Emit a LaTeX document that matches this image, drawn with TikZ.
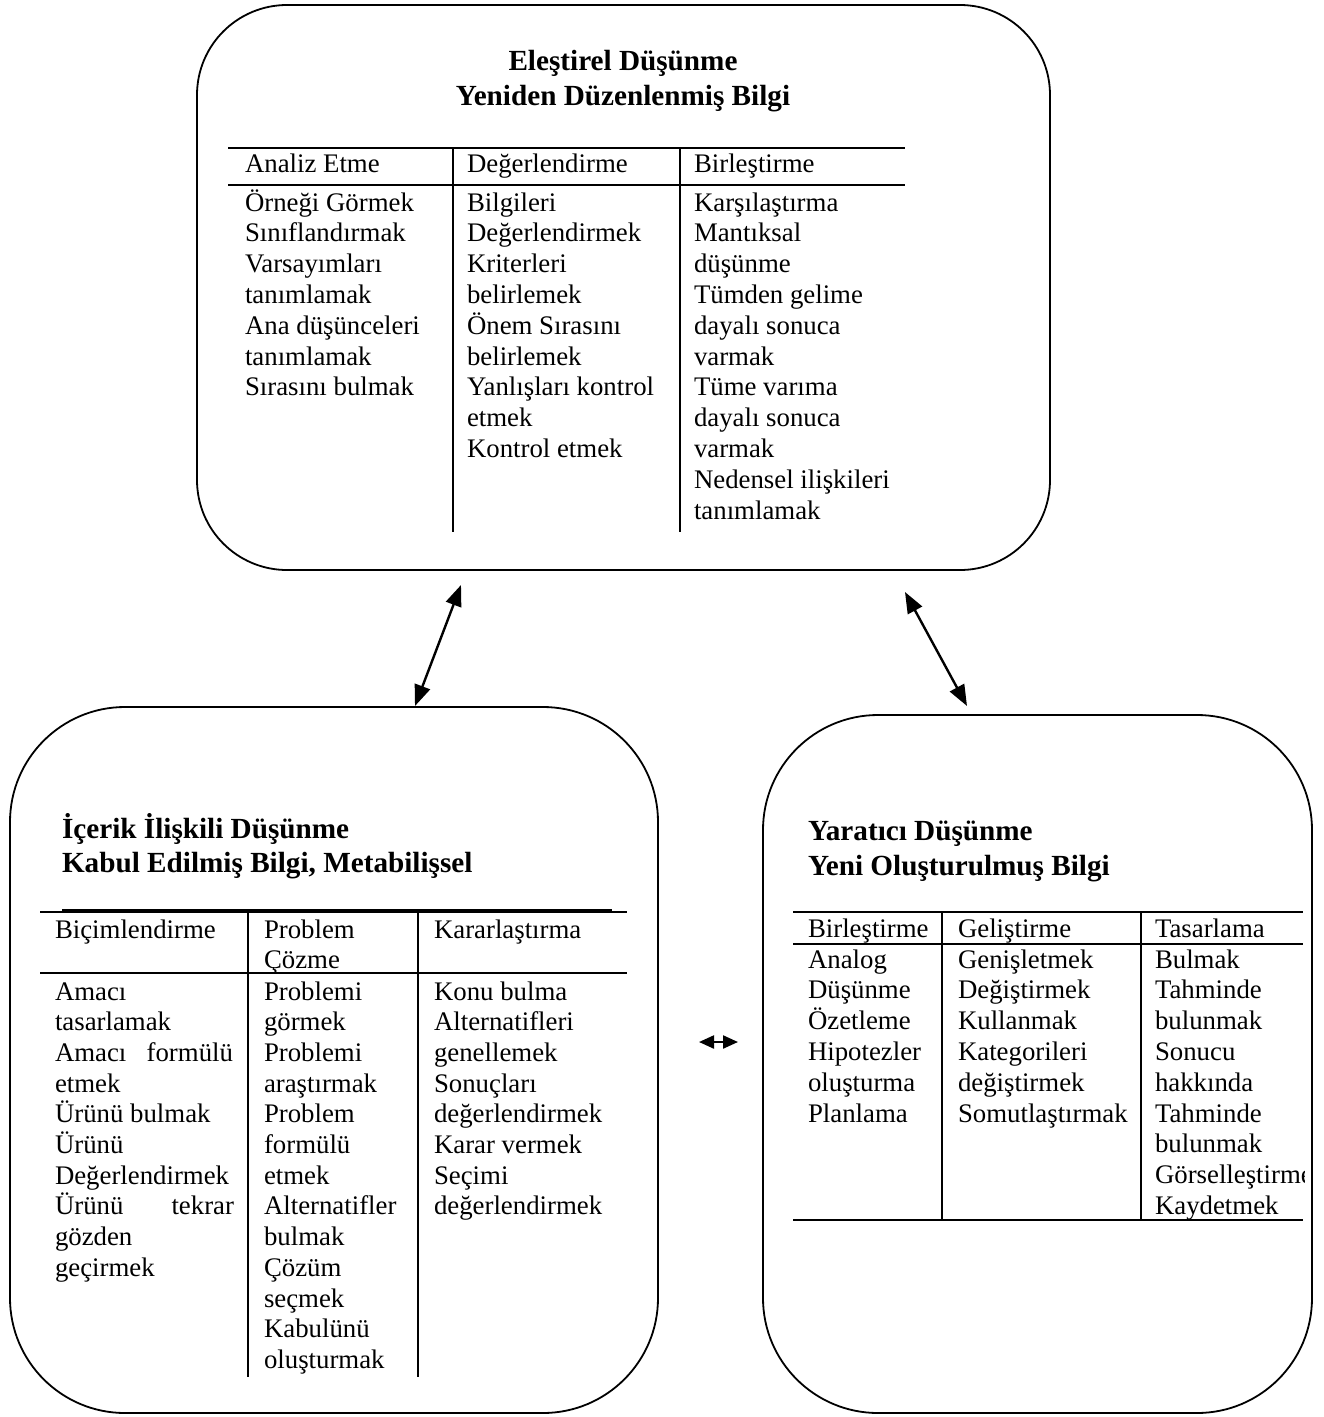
\documentclass[tikz,border=0pt]{standalone}
\usepackage{fontspec}
\setmainfont{Liberation Serif}
\usetikzlibrary{arrows.meta}
\tikzset{
  box/.style={draw, line width=1.8pt, inner sep=0pt, outer sep=0pt},
  cell/.style={anchor=base west, inner sep=0pt, outer sep=0pt, font=\fontsize{26.8}{30.8}\selectfont},
  cellr/.style={anchor=base east, inner sep=0pt, outer sep=0pt, font=\fontsize{26.8}{30.8}\selectfont},
  ttl/.style={inner sep=0pt, outer sep=0pt, font=\fontsize{29.2}{35}\selectfont\bfseries},
  rule/.style={line width=2pt},
  dbl/.style={line width=2.4pt, {Triangle[length=21pt,width=16pt]}-{Triangle[length=21pt,width=16pt]}},
  sdbl/.style={line width=2.2pt, {Triangle[length=15pt,width=13pt]}-{Triangle[length=15pt,width=13pt]}}
}
\begin{document}
\begin{tikzpicture}[x=1pt,y=-1pt]
\useasboundingbox (0,0) rectangle (1324,1417);
\fill[white] (0,0) rectangle (1324,1417);

% ---------- boxes ----------
\node[box, rounded corners=90pt, minimum width=853pt, minimum height=565pt] (top) at (623.5,287.5) {};
\node[box, rounded corners=115pt, minimum width=648pt, minimum height=706pt] (left) at (334,1060) {};
\node[box, rounded corners=115pt, minimum width=549pt, minimum height=698pt] (right) at (1037.5,1064) {};

% ---------- connectors ----------
\coordinate (t1) at (461,585);
\coordinate (l1) at (415,706);
\coordinate (t2) at (905,592);
\coordinate (r1) at (967,706);
\draw[dbl] (l1) -- (t1);
\draw[dbl] (r1) -- (t2);
\coordinate (m1) at (699,1042);
\coordinate (m2) at (738,1042);
\draw[sdbl] (m1) -- (m2);

% ---------- top box ----------
\node[ttl, anchor=base] (tt1) at (623,70) {Eleştirel Düşünme};
\node[ttl, anchor=base] (tt2) at (623,105) {Yeniden Düzenlenmiş Bilgi};
\draw[rule] (228,148) -- (905,148);
\draw[rule] (228,185) -- (905,185);
\draw[rule] (453,148) -- (453,532);
\draw[rule] (680,148) -- (680,532);
\node[cell] (th1) at (245,172) {Analiz Etme};
\node[cell] (th2) at (467,172) {Değerlendirme};
\node[cell] (th3) at (694,172) {Birleştirme};
\foreach \t [count=\i from 0] in {Örneği Görmek,Sınıflandırmak,Varsayımları,tanımlamak,Ana düşünceleri,tanımlamak,Sırasını bulmak}
  \node[cell] (ta\i) at (245,211+30.8*\i) {\t};
\foreach \t [count=\i from 0] in {Bilgileri,Değerlendirmek,Kriterleri,belirlemek,Önem Sırasını,belirlemek,Yanlışları kontrol,etmek,Kontrol etmek}
  \node[cell] (tb\i) at (467,211+30.8*\i) {\t};
\foreach \t [count=\i from 0] in {Karşılaştırma,Mantıksal,düşünme,Tümden gelime,dayalı sonuca,varmak,Tüme varıma,dayalı sonuca,varmak,Nedensel ilişkileri,tanımlamak}
  \node[cell] (tc\i) at (694,211+30.8*\i) {\t};

% ---------- left box ----------
\node[ttl, anchor=base west] (lt1) at (62,838) {İçerik İlişkili Düşünme};
\node[ttl, anchor=base west] (lt2) at (62,872) {Kabul Edilmiş Bilgi, Metabilişsel};
\draw[rule] (40,912) -- (627,912);
\draw[line width=1.5pt] (62,910) -- (612,910);
\draw[rule] (40,973) -- (627,973);
\draw[rule] (248,912) -- (248,1377);
\draw[rule] (418,912) -- (418,1377);
\node[cell] (lh1) at (55,938) {Biçimlendirme};
\node[cell] (lh2) at (264,938) {Problem};
\node[cell] (lh2b) at (264,968) {Çözme};
\node[cell] (lh3) at (434,938) {Kararlaştırma};
\node[cell] (la0) at (55,1000) {Amacı};
\node[cell] (la1) at (55,1030.7) {tasarlamak};
\node[cell] (la2) at (55,1061.4) {Amacı};
\node[cellr] (la2b) at (233,1061.4) {formülü};
\node[cell] (la3) at (55,1092.1) {etmek};
\node[cell] (la4) at (55,1122.8) {Ürünü bulmak};
\node[cell] (la5) at (55,1153.5) {Ürünü};
\node[cell] (la6) at (55,1184.2) {Değerlendirmek};
\node[cell] (la7) at (55,1214.9) {Ürünü};
\node[cellr] (la7b) at (234,1214.9) {tekrar};
\node[cell] (la8) at (55,1245.6) {gözden};
\node[cell] (la9) at (55,1276.3) {geçirmek};
\foreach \t [count=\i from 0] in {Problemi,görmek,Problemi,araştırmak,Problem,formülü,etmek,Alternatifler,bulmak,Çözüm,seçmek,Kabulünü,oluşturmak}
  \node[cell] (lb\i) at (264,1000+30.7*\i) {\t};
\foreach \t [count=\i from 0] in {Konu bulma,Alternatifleri,genellemek,Sonuçları,değerlendirmek,Karar vermek,Seçimi,değerlendirmek}
  \node[cell] (lc\i) at (434,1000+30.7*\i) {\t};

% ---------- right box ----------
\node[ttl, anchor=base west] (rt1) at (808,840) {Yaratıcı Düşünme};
\node[ttl, anchor=base west] (rt2) at (808,875) {Yeni Oluşturulmuş Bilgi};
\draw[rule] (793,912) -- (1303,912);
\draw[rule] (793,944) -- (1303,944);
\draw[line width=2.4pt] (793,1220) -- (1303,1220);
\draw[rule] (942,912) -- (942,1220);
\draw[rule] (1141,912) -- (1141,1220);
\begin{scope}
\clip (780,900) rectangle (1304,1240);
\node[cell] (rh1) at (808,937) {Birleştirme};
\node[cell] (rh2) at (958,937) {Geliştirme};
\node[cell] (rh3) at (1155,937) {Tasarlama};
\foreach \t [count=\i from 0] in {Analog,Düşünme,Özetleme,Hipotezler,oluşturma,Planlama}
  \node[cell] (ra\i) at (808,968+30.8*\i) {\t};
\foreach \t [count=\i from 0] in {Genişletmek,Değiştirmek,Kullanmak,Kategorileri,değiştirmek,Somutlaştırmak}
  \node[cell] (rb\i) at (958,968+30.8*\i) {\t};
\foreach \t [count=\i from 0] in {Bulmak,Tahminde,bulunmak,Sonucu,hakkında,Tahminde,bulunmak,Görselleştirme,Kaydetmek}
  \node[cell] (rc\i) at (1155,968+30.8*\i) {\t};
\end{scope}
\end{tikzpicture}
\end{document}
